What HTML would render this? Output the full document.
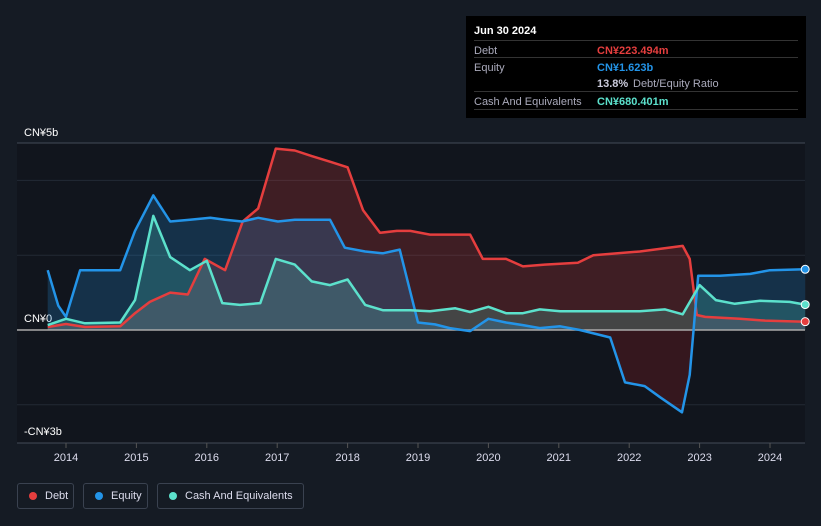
<!DOCTYPE html>
<html><head><meta charset="utf-8"><style>
body{margin:0;background:#151b24;font-family:"Liberation Sans",sans-serif;}
#wrap{position:relative;width:821px;height:526px;overflow:hidden;}
.tt{position:absolute;left:466px;top:16px;width:340px;height:102px;background:#000;color:#fff;font-size:11px;}
.tt .r{position:absolute;left:8px;right:8px;height:17px;border-top:1px solid #333;}
.tt .l{position:absolute;left:0;top:4px;color:#aab;}
.tt .v{position:absolute;left:123px;top:4px;font-weight:bold;}
.lg{position:absolute;top:483px;height:26px;border:1px solid #3a4250;border-radius:3px;color:#dde;font-size:11px;box-sizing:border-box;}
.lg span.d{position:absolute;left:11px;top:8px;width:8px;height:8px;border-radius:50%;}
.lg span.t{position:absolute;left:27px;top:6px;}
</style></head><body>
<div id="wrap">
<svg id="svg" width="821" height="526" style="position:absolute;left:0;top:0"></svg>
<div class="tt">
 <div style="position:absolute;left:8px;top:9px;font-weight:bold">Jun 30 2024</div>
 <div class="r" style="top:24px"><span class="l">Debt</span><span class="v" style="color:#e53e3e">CN¥223.494m</span></div>
 <div class="r" style="top:41px"><span class="l">Equity</span><span class="v" style="color:#2394e8">CN¥1.623b</span></div>
 <div class="r" style="top:58px;border-top:none"><span class="v" style="color:#ccd">13.8%</span><span class="v" style="left:159px;font-weight:normal;color:#aab">Debt/Equity Ratio</span></div>
 <div class="r" style="top:75px"><span class="l">Cash And Equivalents</span><span class="v" style="color:#5ce1cc">CN¥680.401m</span></div>
 <div class="r" style="top:93px;height:0"></div>
</div>
<div class="lg" style="left:17px;width:57px"><span class="d" style="background:#e53e3e"></span><span class="t">Debt</span></div>
<div class="lg" style="left:83px;width:65px"><span class="d" style="background:#2394e8"></span><span class="t">Equity</span></div>
<div class="lg" style="left:157px;width:147px"><span class="d" style="background:#5ce1cc"></span><span class="t">Cash And Equivalents</span></div>
</div>
<script>
const debtT=[13.74,14.0,14.27,14.77,14.98,15.19,15.48,15.73,15.97,16.26,16.51,16.73,16.98,17.25,17.49,17.75,18.0,18.22,18.46,18.7,18.89,19.17,19.74,19.92,20.25,20.49,20.8,21.27,21.49,22.15,22.76,22.86,22.96,23.08,23.57,23.93,24.5];
const debtV=[0.08,0.16,0.08,0.1,0.45,0.75,1.0,0.95,1.9,1.6,2.9,3.25,4.85,4.8,4.65,4.5,4.35,3.2,2.6,2.65,2.65,2.55,2.55,1.9,1.9,1.7,1.75,1.8,2.0,2.1,2.25,1.9,0.4,0.35,0.3,0.25,0.223];
const eqT=[13.74,13.89,14.0,14.2,14.77,14.98,15.24,15.48,15.76,16.05,16.26,16.5,16.73,17.01,17.25,17.75,17.96,18.25,18.5,18.74,19.0,19.24,19.45,19.74,20.0,20.25,20.49,20.73,21.02,21.3,21.73,21.94,22.22,22.44,22.75,22.86,22.98,23.29,23.72,24.0,24.5];
const eqV=[1.6,0.65,0.35,1.6,1.6,2.65,3.6,2.9,2.95,3.0,2.95,2.9,3.0,2.9,2.95,2.95,2.2,2.1,2.05,2.15,0.2,0.15,0.05,-0.03,0.3,0.2,0.13,0.05,0.1,0,-0.2,-1.4,-1.5,-1.8,-2.2,-1.2,1.45,1.45,1.5,1.6,1.623];
const cashT=[13.74,14.0,14.27,14.77,14.98,15.24,15.48,15.76,16.0,16.22,16.47,16.76,16.98,17.25,17.49,17.75,18.0,18.25,18.5,18.89,19.17,19.53,19.74,20.0,20.25,20.49,20.73,21.02,21.59,22.15,22.51,22.76,23.0,23.23,23.5,23.86,24.28,24.5];
const cashV=[0.13,0.3,0.18,0.2,0.8,3.05,1.95,1.6,1.85,0.72,0.67,0.72,1.9,1.75,1.3,1.2,1.35,0.67,0.53,0.53,0.5,0.58,0.48,0.62,0.45,0.45,0.55,0.5,0.5,0.5,0.55,0.42,1.2,0.8,0.7,0.78,0.75,0.68];
const yTicks=[5,0,-3];const yLabels=["CN¥5b","CN¥0","-CN¥3b"];
const xYears=[2014,2015,2016,2017,2018,2019,2020,2021,2022,2023,2024];
const X=t=>66+(t-14)*70.4, Y=v=>330-v*37.4;
const svg=document.getElementById('svg'),NS='http://www.w3.org/2000/svg';
function mk(tag,at,name,parent){const e=document.createElementNS(NS,tag);for(const k in at)e.setAttribute(k,at[k]);


(parent||svg).appendChild(e);return e;}
const defs=mk('defs',{},'defs');
const cp1=mk('clipPath',{id:'above'},'clip-above',defs);mk('rect',{x:0,y:0,width:821,height:330},'clip-rect',cp1);
const cp2=mk('clipPath',{id:'below'},'clip-below',defs);mk('rect',{x:0,y:330,width:821,height:200},'clip-rect',cp2);
mk('rect',{x:17,y:143,width:788,height:300,fill:'#11151d'},'plot-background');
[4,2,-2].forEach(v=>mk('line',{x1:17,x2:805,y1:Y(v),y2:Y(v),stroke:'#232a35','stroke-width':1},'gridline'));
mk('line',{x1:17,x2:805,y1:143,y2:143,stroke:'#444b57'},'top-line');
mk('line',{x1:17,x2:805,y1:443,y2:443,stroke:'#444b57'},'x-axis-line');
yTicks.forEach((v,i)=>{const t=mk('text',{x:24,y:Y(v)==330?322:(v>0?136:435),fill:'#fff','font-size':11},'y-tick-label');t.textContent=yLabels[i];});
xYears.forEach(yr=>{const x=X(yr-2000);mk('line',{x1:x,x2:x,y1:443,y2:448,stroke:'#555'},'x-tick');
const t=mk('text',{x:x,y:461,fill:'#dde','font-size':11,'text-anchor':'middle'},'x-tick-label');t.textContent=yr;});
function ser(T,V,col,fill,name,negFill){
 const pts=T.map((t,i)=>X(t).toFixed(1)+','+Y(V[i]).toFixed(1));
 const d='M'+X(T[0])+','+Y(0)+'L'+pts.join('L')+'L'+X(T[T.length-1])+','+Y(0)+'Z';
 mk('path',{d:d,fill:fill,'clip-path':'url(#above)'},name+'-area');
 mk('path',{d:d,fill:negFill||fill,'clip-path':'url(#below)'},name+'-area-negative');
 return ()=>{mk('polyline',{points:pts.join(' '),fill:'none',stroke:col,'stroke-width':2.5,'stroke-linejoin':'round'},name+'-line');
 mk('circle',{cx:X(T[T.length-1]),cy:Y(V[V.length-1]),r:4,fill:col,stroke:'#fff','stroke-width':1},name+'-end-dot');};
}
const a=ser(debtT,debtV,'#e53e3e','rgba(229,62,62,0.22)','debt');
const b=ser(eqT,eqV,'#2394e8','rgba(35,148,232,0.22)','equity','rgba(120,30,35,0.35)');
const c=ser(cashT,cashV,'#5ce1cc','rgba(92,225,204,0.2)','cash');
mk('line',{x1:17,x2:805,y1:330,y2:330,stroke:'#aaa','stroke-width':1.5},'zero-line');
a();b();c();
</script>
</body></html>
